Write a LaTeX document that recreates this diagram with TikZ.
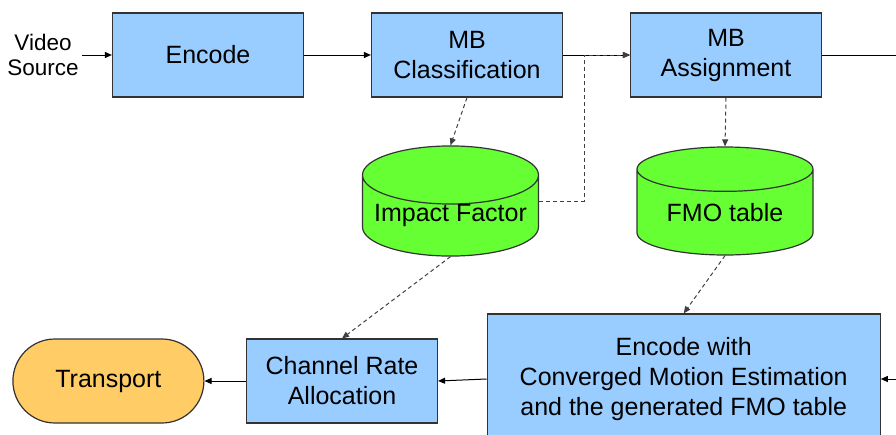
\documentclass[tikz,border=0pt]{standalone}
\usepackage{fontspec}
\setmainfont{Liberation Sans}
\usetikzlibrary{positioning, shapes, arrows.meta, calc}

\definecolor{boxblue}{HTML}{99CCFF}
\definecolor{cylgreen}{HTML}{66FF33}
\definecolor{portorange}{HTML}{FFCC66}
\definecolor{edgegray}{HTML}{333333}

\tikzset{
  block/.style={rectangle, draw=edgegray, fill=boxblue, line width=1.2pt, minimum width=191pt, minimum height=84pt, inner sep=0pt, align=center},
  store/.style={cylinder, shape border rotate=90, aspect=0.38, draw=edgegray, line width=1.2pt, cylinder uses custom fill, cylinder body fill=cylgreen, cylinder end fill=cylgreen, minimum width=176pt, minimum height=108pt, inner sep=0pt, anchor=shape center},
  flow/.style={-{Triangle[length=7pt,width=6pt]}, line width=1pt},
  hint/.style={flow, dash pattern=on 4pt off 3pt, draw=black!75}
}

\begin{document}
\begin{tikzpicture}[x=1pt, y=-1pt, font=\fontsize{25}{30}\selectfont]
\useasboundingbox (0,0) rectangle (896,434);
                  % Nodes
                  \node[align=center, font=\fontsize{22.5}{25}\selectfont] (video) at (43,55) {Video\\Source};
                  \node[block] (encode) at (208,55) {Encode};
                  \node[block] (mbclass) at (467,55) {MB\\Classification};
                  \node[block] (mbassign) at (726,55) {MB\\Assignment};
                  \node[store] (impact) at (450.5,201) {Impact Factor};
                  \node[store] (fmo) at (725,201) {FMO table};
                  \node[block, minimum width=393pt, minimum height=130pt] (encfmo) at (683.7,379) {Encode with\\Converged Motion Estimation\\and the generated FMO table};
                  \node[block] (rate) at (342,381) {Channel Rate\\Allocation};
                  \node[rectangle, rounded corners=42pt, draw=edgegray, fill=portorange, line width=1.2pt, minimum width=191pt, minimum height=84pt] (transport) at (108.4,381) {Transport};

                  % Arrows
                  \draw[flow] (video) -- (encode);
                  \draw[flow] (encode) -- (mbclass);
                  \draw[flow] (mbclass) -- (mbassign);
                  \draw[hint] (mbclass.south) -- (impact.north);
                  \draw[hint] (mbassign.south) -- (fmo.north);
                  \draw[hint] (impact.shape center -| impact.east) -| (584,55) -- (mbassign.west);
                  \draw[hint] (impact.south) -- (rate.north);
                  \draw[hint] (fmo.south) -- (encfmo.north);
                  \draw[flow] (mbassign.east) -- (906,55) |- (encfmo.east);
                  \draw[flow] (encfmo.west) -- (rate.east);
                  \draw[flow] (rate) -- (transport);
              \end{tikzpicture}
\end{document}
